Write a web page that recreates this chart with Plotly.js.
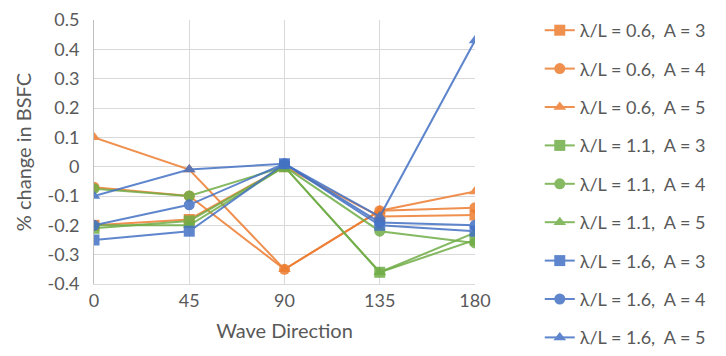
<!DOCTYPE html>
<html>
<head>
<meta charset="utf-8">
<script src="https://cdn.plot.ly/plotly-3.0.1.min.js"></script>
<style>html,body{margin:0;padding:0;background:#fff;}#chart{width:726px;height:356px;}</style>
</head>
<body>
<div id="chart"></div>
<script>
const waveDirection = [0, 45, 90, 135, 180];

const seriesNames = [
  "λ/L = 0.6,  A = 3", "λ/L = 0.6,  A = 4", "λ/L = 0.6,  A = 5",
  "λ/L = 1.1,  A = 3", "λ/L = 1.1,  A = 4", "λ/L = 1.1,  A = 5",
  "λ/L = 1.6,  A = 3", "λ/L = 1.6,  A = 4", "λ/L = 1.6,  A = 5"
];

const orangeA3 = [-0.20, -0.18, 0.00, -0.17, -0.165];
const orangeA4 = [-0.07, -0.10, -0.35, -0.15, -0.14];
const orangeA5 = [0.10, -0.01, -0.35, -0.15, -0.085];
const greenA3 = [-0.21, -0.185, 0.00, -0.36, -0.25];
const greenA4 = [-0.075, -0.10, 0.00, -0.22, -0.26];
const greenA5 = [-0.20, -0.20, 0.00, -0.36, -0.225];
const blueA3 = [-0.25, -0.22, 0.01, -0.20, -0.22];
const blueA4 = [-0.20, -0.13, 0.01, -0.19, -0.20];
const blueA5 = [-0.10, -0.01, 0.01, -0.17, 0.43];

const seriesValues = [orangeA3, orangeA4, orangeA5, greenA3, greenA4, greenA5, blueA3, blueA4, blueA5];
const seriesColors = ["#ED7D31", "#ED7D31", "#ED7D31", "#70AD47", "#70AD47", "#70AD47", "#4472C4", "#4472C4", "#4472C4"];
const seriesSymbols = ["square", "circle", "triangle-up", "square", "circle", "triangle-up", "square", "circle", "triangle-up"];

const xTicks = [0, 45, 90, 135, 180];
const yTicks = [-0.4, -0.3, -0.2, -0.1, 0, 0.1, 0.2, 0.3, 0.4, 0.5];
const yTickText = ["-0.4", "-0.3", "-0.2", "-0.1", "0", "0.1", "0.2", "0.3", "0.4", "0.5"];

const traces = seriesValues.map((vals, i) => ({
  x: waveDirection,
  y: vals,
  name: seriesNames[i],
  type: "scatter",
  mode: "lines+markers",
  legendgroup: "g" + i,
  line: {color: seriesColors[i], width: 2},
  opacity: 0.85,
  marker: {color: seriesColors[i], symbol: seriesSymbols[i], size: 11}
}));

const layout = {
  width: 726, height: 356,
  margin: {l: 94, r: 251, t: 20, b: 72},
  paper_bgcolor: "#fff", plot_bgcolor: "#fff",
  font: {family: "Lato, 'Open Sans', sans-serif", color: "#595959", size: 17},
  showlegend: true,
  legend: {
    x: 1.17, xanchor: "left", y: 0.97, yanchor: "top",
    font: {size: 18, color: "#595959"},
    traceorder: "grouped", tracegroupgap: 12,
    maxheight: 356
  },
  xaxis: {
    range: [0, 180], tickvals: xTicks, ticktext: xTicks.map(String),
    showgrid: true, gridcolor: "#D9D9D9", zeroline: false,
    showline: true, linecolor: "#D9D9D9", ticks: "",
    tickfont: {size: 18, color: "#595959"},
    title: {text: "Wave Direction", font: {size: 20, color: "#595959"}, standoff: 14}
  },
  yaxis: {
    range: [-0.4, 0.5], tickvals: yTicks, ticktext: yTickText,
    showgrid: true, gridcolor: "#D9D9D9", zeroline: false,
    showline: true, linecolor: "#BFBFBF", ticks: "",
    ticklabelstandoff: 10,
    tickfont: {size: 18, color: "#595959"},
    title: {text: "% change in BSFC", font: {size: 20, color: "#595959"}, standoff: 10}
  }
};

Plotly.newPlot("chart", traces, layout, {staticPlot: true, displayModeBar: false});
</script>
</body>
</html>
